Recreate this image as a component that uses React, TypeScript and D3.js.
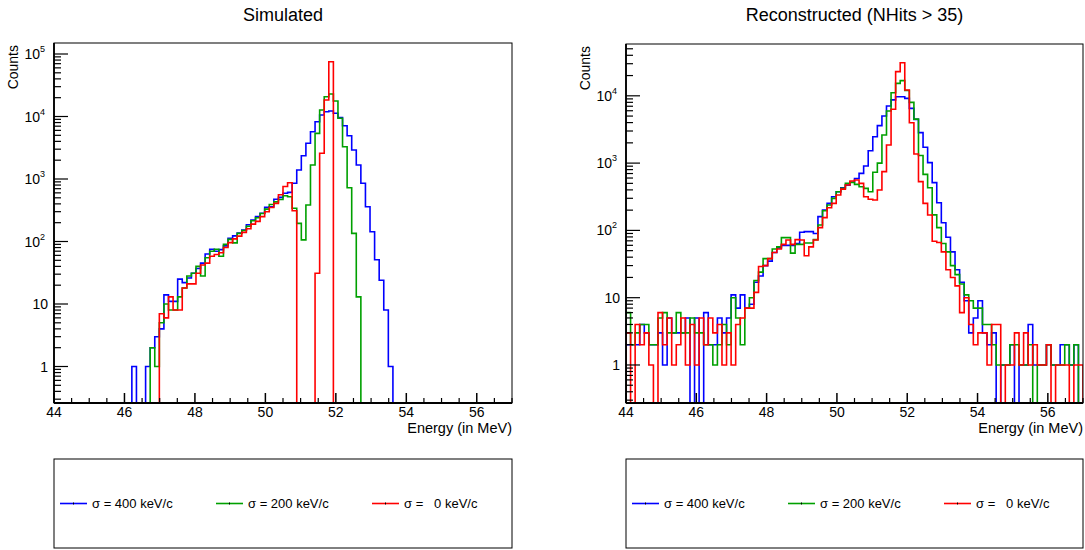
import React from 'react';
import * as d3 from 'd3';

const E_MIN = 44;
const E_MAX = 57;
const N_BINS = 100;
const xMajorTicks = [44, 46, 48, 50, 52, 54, 56];
const legendLabels = ['σ = 400 keV/c', 'σ = 200 keV/c', 'σ =   0 keV/c'];
const seriesColors = ['#0000ff', '#00a000', '#ff0000'];
const panelTitles = ['Simulated', 'Reconstructed (NHits > 35)'];

// Simulated (bins of 0.13 MeV from 44 to 57)
const simBlue = [
  0,0,0,0,0,0,0,0,0,0,0,0,0,0,0,0,0,
  1,0,0,1,2,3,4,14,11,11,25,22,26,31,37,45,63,75,70,74,85,112,123,136,152,185,221,250,283,352,360,473,509,590,610,853,
  1393,2360,3724,5710,8260,10570,11940,12250,11250,9580,7130,4930,2910,1675,853,360,143,51,24,8,1,
  0,0,0,0,0,0,0,0,0,0,0,0,0,0,0,0,0,0,0,0,0,0,0,0,0,0,
];
const simGreen = [
  0,0,0,0,0,0,0,0,0,0,0,0,0,0,0,0,0,0,0,0,0,
  2,1,5,10,8,8,13,18,28,31,40,28,55,70,75,58,90,108,95,135,150,175,215,240,280,330,390,430,470,540,521,340,195,106,384,
  1675,5380,12700,20700,22900,17700,9350,3290,726,135,13,
  0,0,0,0,0,0,0,0,0,0,0,0,0,0,0,0,0,0,0,0,0,0,0,0,0,0,0,0,0,0,0,0,0,
];
const simRed = [
  0,0,0,0,0,0,0,0,0,0,0,0,0,0,0,0,0,0,0,0,0,0,0,
  7,6,13,8,8,18,21,21,31,42,45,58,62,66,80,96,110,122,140,160,190,210,250,300,350,408,560,760,873,310,
  0,0,0,0,31,2580,18400,75300,
  0,0,0,0,0,0,0,0,0,0,0,0,0,0,0,0,0,0,0,0,0,0,0,0,0,0,0,0,0,0,0,0,0,0,0,0,0,0,0,
];

// Reconstructed (NHits > 35)
const recoBlue = [
  2,2,2,4,3,2,2,3,1,5,3,3,3,5,0,5,0,6,2,2,5,3,5,11,7,11,7,8,17,21,
  30,35,47,55,60,60,60,64,94,96,96,90,160,201,252,317,376,430,470,520,
  590,703,904,1527,2466,3600,5000,7040,8700,9700,9700,9160,6500,4470,2840,1720,1017,512,258,130,
  79,48,26,17,9,3,5,9,3,2,3,0,1,1,2,0,1,1,4,1,1,1,2,1,1,2,2,1,2,0,
];
const recoGreen = [
  6,2,3,4,4,2,2,5,6,3,3,6,3,3,5,3,3,2,2,1,2,4,2,10,5,2,7,10,18,24,
  38,38,53,57,78,78,46,62,62,65,65,73,120,196,238,299,376,421,500,518,
  483,446,421,376,730,1000,2620,5940,11100,15300,16800,12000,8000,4500,1300,680,430,170,110,64,
  48,30,22,16,11,9,7,7,4,4,2,1,1,1,2,2,1,1,2,0,1,1,2,1,1,1,2,1,2,0,
];
const recoRed = [
  3,0,4,2,3,1,0,6,2,5,1,2,5,1,4,1,5,2,5,3,4,1,3,1,4,5,7,7,12,29,
  30,38,47,53,62,72,62,73,72,42,57,72,110,155,217,252,336,411,473,542,
  561,500,317,290,283,398,746,1860,6300,22900,31000,12200,3980,1365,530,252,169,69,66,48,
  26,20,15,6,10,4,2,3,3,1,4,4,0,1,1,3,1,3,1,2,1,1,2,0,1,1,1,0,1,1,
];

const FONT = '"Liberation Sans", Arial, Helvetica, sans-serif';

type PanelProps = {
  id: string;
  left: number;
  right: number;
  top: number;
  bottom: number;
  yMin: number;
  yMax: number;
  title: string;
  series: number[][];
};

function Panel({ id, left, right, top, bottom, yMin, yMax, title, series }: PanelProps) {
  const x = d3.scaleLinear().domain([E_MIN, E_MAX]).range([left, right]);
  const y = d3.scaleLog().domain([yMin, yMax]).range([bottom, top]);
  const bw = (E_MAX - E_MIN) / N_BINS;
  const line = d3.line();

  const histPath = (vals: number[]) => {
    const pts: [number, number][] = [[x(E_MIN), bottom]];
    vals.forEach((v, i) => {
      const yy = v > 0 ? y(v) : bottom;
      pts.push([x(E_MIN + i * bw), yy]);
      pts.push([x(E_MIN + (i + 1) * bw), yy]);
    });
    pts.push([x(E_MAX), bottom]);
    return line(pts) || '';
  };

  const minorX = d3.range(E_MIN, E_MAX + 0.001, 0.5).filter((v) => !xMajorTicks.includes(v));
  const yTicks: { v: number; major: boolean; p: number }[] = [];
  for (let p = Math.floor(Math.log10(yMin)); p <= Math.ceil(Math.log10(yMax)); p++) {
    for (let m = 1; m <= 9; m++) {
      const v = m * Math.pow(10, p);
      if (v >= yMin && v <= yMax) yTicks.push({ v, major: m === 1, p });
    }
  }

  return (
    <g>
      <defs>
        <clipPath id={`clip-${id}`}>
          <rect x={left} y={top} width={right - left} height={bottom - top} />
        </clipPath>
      </defs>
      <text x={(left + right) / 2} y={21} textAnchor="middle" fontFamily={FONT} fontSize={18}>
        {title}
      </text>
      <g clipPath={`url(#clip-${id})`}>
        {series.map((s, k) => (
          <path key={k} d={histPath(s)} fill="none" stroke={seriesColors[k]} strokeWidth={1.6} />
        ))}
      </g>
      <rect x={left} y={top} width={right - left} height={bottom - top} fill="none" stroke="#000" strokeWidth={1} />
      <line x1={left} x2={right} y1={bottom} y2={bottom} stroke="#000" strokeWidth={1.8} />
      <line x1={left} x2={left} y1={top} y2={bottom} stroke="#000" strokeWidth={1.8} />
      {xMajorTicks.map((t) => (
        <g key={`xm${t}`}>
          <line x1={x(t)} x2={x(t)} y1={bottom} y2={bottom - 10} stroke="#000" strokeWidth={1.5} />
          <text x={x(t)} y={417} textAnchor="middle" fontFamily={FONT} fontSize={14}>
            {t}
          </text>
        </g>
      ))}
      {minorX.map((t) => (
        <line key={`xn${t}`} x1={x(t)} x2={x(t)} y1={bottom} y2={bottom - 5} stroke="#000" strokeWidth={1.2} />
      ))}
      {yTicks.map((t) => (
        <line
          key={`y${t.v}`}
          x1={left}
          x2={left + (t.major ? 14 : 7)}
          y1={y(t.v)}
          y2={y(t.v)}
          stroke="#000"
          strokeWidth={1.2}
        />
      ))}
      {yTicks
        .filter((t) => t.major)
        .map((t) => (
          <text
            key={`yl${t.v}`}
            x={t.p >= 2 ? left - 9 : left - 6}
            y={y(t.v) + 5}
            textAnchor="end"
            fontFamily={FONT}
            fontSize={14}
          >
            {t.p === 0 ? '1' : '10'}
            {t.p >= 2 ? (
              <tspan fontSize={9} dy={-7}>
                {String(t.p)}
              </tspan>
            ) : null}
          </text>
        ))}
      {yTicks
        .filter((t) => t.major && t.p >= 2)
        .map((t) => null)}
      <text
        transform={`translate(${left - 36},${top + 2}) rotate(-90)`}
        textAnchor="end"
        fontFamily={FONT}
        fontSize={14}
      >
        Counts
      </text>
      <text x={right} y={433} textAnchor="end" fontFamily={FONT} fontSize={14.5}>
        Energy (in MeV)
      </text>
    </g>
  );
}

function Legend({ left, right }: { left: number; right: number }) {
  const top = 459;
  const bottom = 548;
  const cy = 503.5;
  const offsets = [6, 162, 318];
  return (
    <g>
      <rect x={left} y={top} width={right - left} height={bottom - top} fill="#fff" stroke="#000" strokeWidth={1} />
      {legendLabels.map((lab, k) => {
        const x0 = left + offsets[k];
        return (
          <g key={k}>
            <line x1={x0} x2={x0 + 27} y1={cy} y2={cy} stroke={seriesColors[k]} strokeWidth={1.6} />
            <line x1={x0 + 13.5} x2={x0 + 13.5} y1={cy - 1} y2={cy + 1} stroke="#000" strokeWidth={1} />
            <text
              x={x0 + 32}
              y={cy + 4.5}
              fontFamily={FONT}
              fontSize={13}
              style={{ whiteSpace: 'pre' }}
            >
              {lab}
            </text>
          </g>
        );
      })}
    </g>
  );
}

export default function App() {
  return (
    <svg width={1085} height={550} style={{ position: 'absolute', left: 0, top: 0, background: '#fff' }}>
      <rect x={0} y={0} width={1085} height={550} fill="#fff" />
      <Panel
        id="sim"
        left={54}
        right={512}
        top={43}
        bottom={403}
        yMin={Math.pow(10, -0.584)}
        yMax={Math.pow(10, 5.176)}
        title={panelTitles[0]}
        series={[simBlue, simGreen, simRed]}
      />
      <Panel
        id="reco"
        left={626}
        right={1083}
        top={44}
        bottom={403}
        yMin={Math.pow(10, -0.565)}
        yMax={Math.pow(10, 4.77)}
        title={panelTitles[1]}
        series={[recoBlue, recoGreen, recoRed]}
      />
      <Legend left={54} right={512} />
      <Legend left={626} right={1083} />
    </svg>
  );
}
